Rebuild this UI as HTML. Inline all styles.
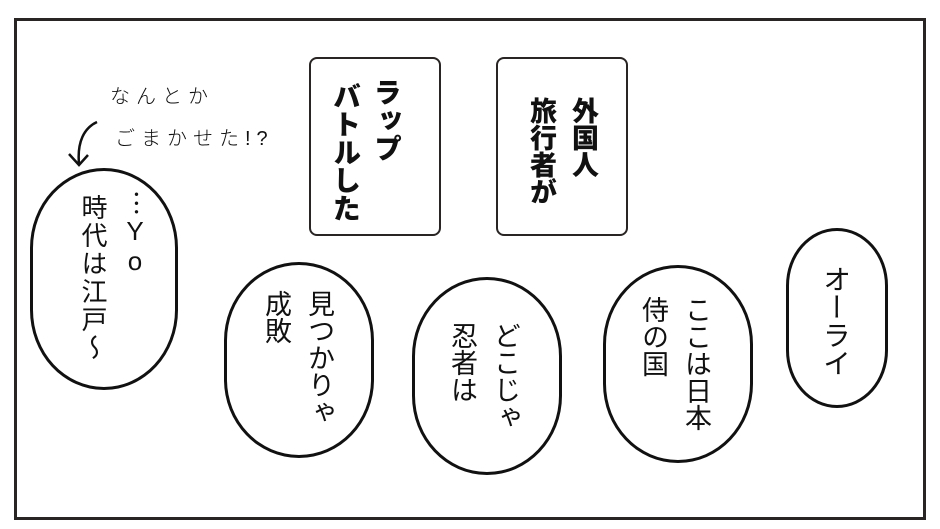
<!DOCTYPE html>
<html><head><meta charset="utf-8"><style>
body{margin:0;width:940px;height:529px;background:#fff;position:relative;overflow:hidden;font-family:"Liberation Sans","Noto Sans CJK JP",sans-serif;color:#111}
.a{position:absolute}
.frame{left:14px;top:18px;width:906px;height:496px;border:3px solid #2a2525}
.box{border:2.5px solid #2a2525;border-radius:8px;background:#fff}
.b{border:3px solid #111;background:#fff}
.v{writing-mode:vertical-rl;line-height:1;white-space:nowrap}
.bold{font-weight:900}
</style></head><body>
<div class="a frame"></div>
<div class="a box" style="left:309px;top:57px;width:128px;height:175px"></div>
<div class="a box" style="left:496px;top:57px;width:128px;height:175px"></div>
<div class="a v bold" style="left:372px;top:78px;font-size:28px">ラップ</div>
<div class="a v bold" style="left:331px;top:82px;font-size:28px">バトルした</div>
<div class="a v bold" style="left:569px;top:97px;font-size:27px">外国人</div>
<div class="a v bold" style="left:527px;top:97px;font-size:27px">旅行者が</div>

<div class="a" style="left:110px;top:80px;font-size:20px;letter-spacing:6px;font-weight:300">なんとか</div>
<div class="a" style="left:115px;top:122px;font-size:20px;letter-spacing:6px;font-weight:300">ごまかせた!?</div>
<svg class="a" style="left:0;top:0" width="940" height="529"><path d="M97 122 C84 128 77 142 79 164" fill="none" stroke="#111" stroke-width="2.5"/><path d="M69 154 L79 165 L88 155" fill="none" stroke="#111" stroke-width="2.5"/></svg>

<div class="a b" style="left:30px;top:168px;width:142px;height:216px;border-radius:50%/36%"></div>
<div class="a v" style="left:122px;top:190px;font-size:26px;text-orientation:upright">︙Yo</div>
<div class="a v" style="left:80px;top:194px;font-size:26px;letter-spacing:2px">時代は江戸〜</div>

<div class="a b" style="left:224px;top:262px;width:144px;height:190px;border-radius:50%/40%"></div>
<div class="a v" style="left:305px;top:290px;font-size:27px">見つかりゃ</div>
<div class="a v" style="left:262px;top:290px;font-size:27px">成敗</div>

<div class="a b" style="left:412px;top:277px;width:144px;height:192px;border-radius:50%/40%"></div>
<div class="a v" style="left:491px;top:322px;font-size:27px">どこじゃ</div>
<div class="a v" style="left:448px;top:322px;font-size:27px">忍者は</div>

<div class="a b" style="left:603px;top:265px;width:144px;height:192px;border-radius:50%/40%"></div>
<div class="a v" style="left:682px;top:296px;font-size:27px">ここは日本</div>
<div class="a v" style="left:639px;top:296px;font-size:27px">侍の国</div>

<div class="a b" style="left:786px;top:228px;width:96px;height:174px;border-radius:50%/32%"></div>
<div class="a v" style="left:821px;top:265px;font-size:28px">オーライ</div>
</body></html>
